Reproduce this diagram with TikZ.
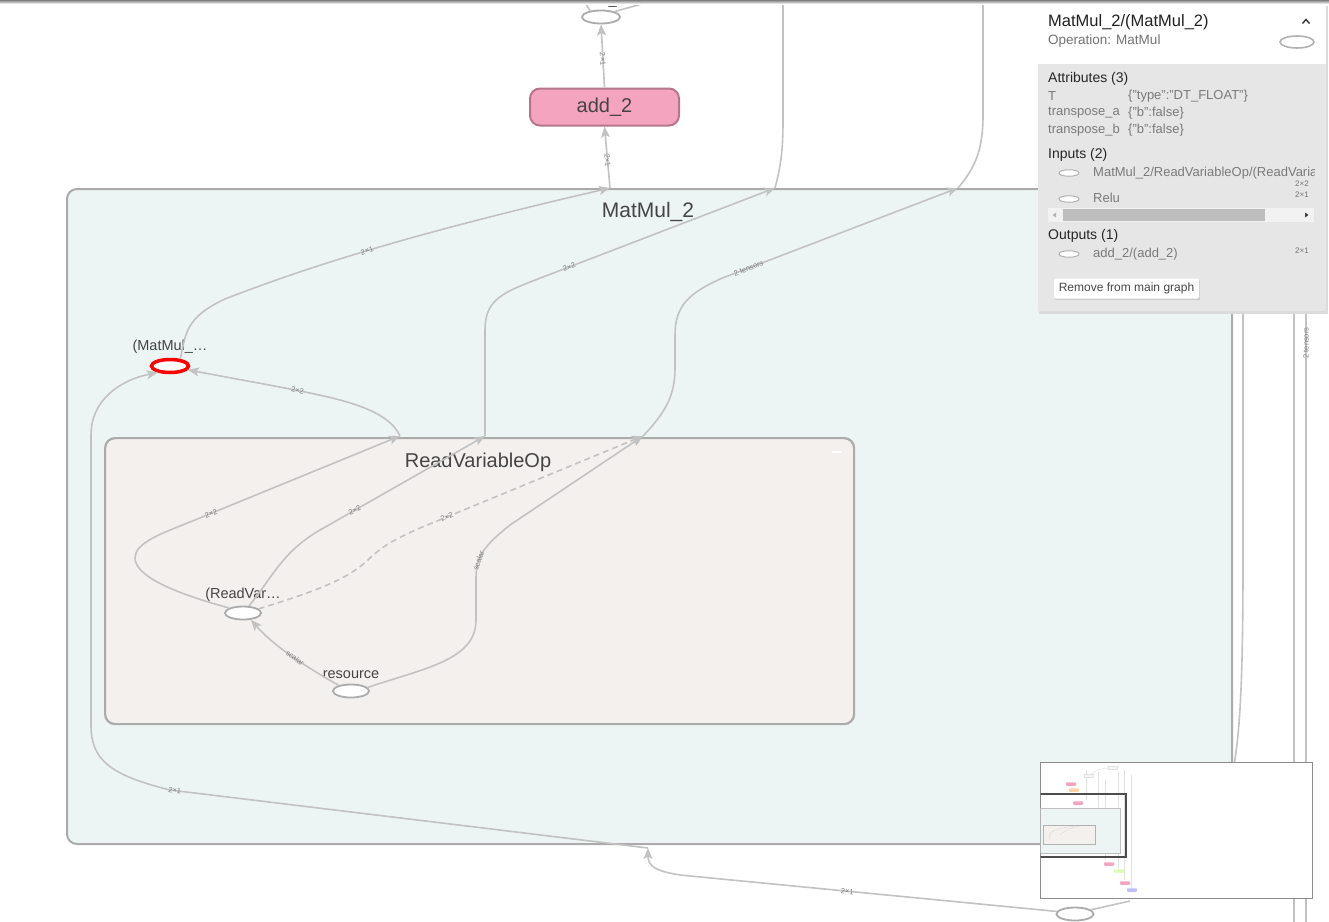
\documentclass[tikz,border=0pt]{standalone}
\usepackage{fontspec}
\setmainfont{Liberation Sans}
\usetikzlibrary{shapes.geometric,arrows.meta,shadings}
\definecolor{edgec}{HTML}{C2C2C2}
\definecolor{boxb}{HTML}{ABABAB}
\definecolor{mmfill}{HTML}{EDF5F4}
\definecolor{rvfill}{HTML}{F4F0EE}
\definecolor{pinkf}{HTML}{F4A4BF}
\definecolor{pinkb}{HTML}{B5768A}
\definecolor{txt}{HTML}{444444}
\definecolor{lblc}{HTML}{808080}
\definecolor{panelg}{HTML}{E6E6E6}
\tikzset{
  edge/.style={draw=edgec, line width=1.6pt},
  arr/.style={-{Stealth[length=11pt,width=9pt,inset=2.5pt]}},
  dashedge/.style={dash pattern=on 6pt off 4pt},
  elab/.style={font=\fontsize{7.5}{8}\selectfont, text=lblc, sloped, inner sep=0.5pt},
  opn/.style={ellipse, draw=boxb, line width=1.8pt, fill=white, minimum width=36pt, minimum height=13pt, inner sep=0pt},
  nlab/.style={font=\fontsize{14.5}{16}\selectfont, text=txt},
  grp/.style={font=\fontsize{21}{24}\selectfont, text=txt},
  metabox/.style={draw=boxb, line width=2pt, rounded corners=10pt, anchor=north west, inner sep=0pt},
  ptxt/.style={anchor=west, inner sep=0pt, font=\fontsize{13}{15}\selectfont, text=black!52},
  phead/.style={anchor=west, inner sep=0pt, font=\fontsize{14}{16}\selectfont, text=black!85},
  psmall/.style={inner sep=0pt, font=\fontsize{8}{9}\selectfont, text=black!55},
  pell/.style={ellipse, draw=black!30, line width=1pt, fill=white, minimum width=20pt, minimum height=6.5pt, inner sep=0pt},
  mini/.style={rounded corners=0.8pt, minimum width=10pt, minimum height=3.5pt, inner sep=0pt, draw=black!25, line width=0.3pt}
}
\begin{document}
\begin{tikzpicture}[x=1pt,y=-1pt]
\begin{scope}
\clip (0,0) rectangle (1329,921);
\fill[white] (0,0) rectangle (1329,921);

% right-hand vertical edges
\coordinate (rA0) at (1231,-5);
\coordinate (rA1) at (1231,188);
\coordinate (rB0) at (1243,-5);
\coordinate (rB1) at (1234,765);
\coordinate (rC0) at (1294,-5);
\coordinate (rC1) at (1294,930);
\coordinate (rD0) at (1306,-5);
\coordinate (rD1) at (1306,930);
\draw[edge] (rA0) -- (rA1);
\draw[edge] (rB0) -- (1243,560) .. controls (1243,680) and (1240,730) .. (rB1);
\draw[edge] (rC0) -- (rC1);
\draw[edge] (rD0) -- (rD1);
\node[elab, sloped=false, rotate=90] (rlab) at (1306,343) {2 tensors};

% group boxes
\node[metabox, fill=mmfill, minimum width=1165pt, minimum height=655pt] (mm) at (66,188) {};
\node[grp] (mmtitle) at (648,212) {MatMul\_2};
\node[metabox, fill=rvfill, minimum width=749pt, minimum height=286pt, line width=2.2pt] (rvo) at (104,437) {};
\node[grp, font=\fontsize{20}{24}\selectfont] (rvtitle) at (478,462) {ReadVariableOp};
\draw[white, line width=2pt] (832,452) -- (842,452);

% op nodes
\node[opn, minimum width=38pt] (tanh) at (601,17) {};
\node[nlab, anchor=base] (tanhlab) at (601,4) {Tanh\_1};
\node[draw=pinkb, fill=pinkf, line width=2pt, rounded corners=10pt, minimum width=149pt, minimum height=37pt, inner sep=0pt, grp, font=\fontsize{20}{24}\selectfont] (add) at (604.5,107) {add\_2};
\node[opn, draw=red, line width=3.5pt, minimum width=37pt, minimum height=13pt, label={[nlab, label distance=1pt]90:{(MatMul\_…}}] (mmn) at (170,366) {};
\node[opn, label={[nlab, label distance=1pt]90:{(ReadVar…}}] (rv) at (243,613) {};
\node[opn, label={[nlab, label distance=1pt]90:{resource}}] (res) at (351,691) {};
\node[opn, minimum width=37pt] (relu) at (1075,914) {};

% border coordinates
\coordinate (mmA) at (610,188);
\coordinate (mmB) at (775,188);
\coordinate (mmC) at (958,188);
\coordinate (mmD) at (648,848);
\coordinate (rvA) at (400,436);
\coordinate (rvB) at (485,436);
\coordinate (rvC) at (643,436);
\coordinate (topB) at (783,-5);
\coordinate (topC) at (983,-5);
\coordinate (tanhL) at (580,-5);
\coordinate (tanhR) at (685,-8);
\coordinate (reluR) at (1130,901);

% edges
\draw[edge] (tanh.150) -- (tanhL);
\draw[edge] (tanh.22) -- (tanhR);
\draw[edge,arr] (add.north) -- (tanh.south) node[elab,pos=0.45]{2×1};
\draw[edge,arr] (mmA) -- (add.south) node[elab,pos=0.45]{2×1};
\draw[edge,arr] (mmn.35) .. controls (186,335) and (184,318) .. (225,299) .. controls (330,258) and (450,225) .. (mmA) node[elab,pos=0.42]{2×1};
\draw[edge,arr] (rvA) .. controls (388,410) and (345,400) .. (300,391) .. controls (260,383) and (225,377) .. (mmn.-12) node[elab,pos=0.02]{2×2};
\draw[edge,arr] (rvB) -- (485,330) .. controls (485,302) and (500,294) .. (530,282) -- (mmB) node[elab,pos=0.16]{2×2};
\draw[edge] (mmB) .. controls (781,165) and (783,150) .. (783,120) -- (topB);
\draw[edge,arr] (rvC) .. controls (666,412) and (675,395) .. (675,368) -- (675,335) .. controls (675,305) and (690,293) .. (720,279) -- (mmC) node[elab,pos=0.12]{2 tensors};
\draw[edge] (mmC) .. controls (975,168) and (983,150) .. (983,115) -- (topC);
\draw[edge,arr] (rv.160) .. controls (170,592) and (135,575) .. (135,558) .. controls (135,543) and (160,534) .. (190,522) -- (rvA) node[elab,pos=0.1]{2×2};
\draw[edge,arr] (rv.50) .. controls (272,578) and (282,552) .. (320,530) -- (rvB) node[elab,pos=0.21]{2×2};
\draw[edge,dashedge,arr] (rv.15) .. controls (320,590) and (350,578) .. (370,558) .. controls (385,544) and (398,538) .. (420,528) -- (rvC) node[elab,pos=0.12]{2×2};
\draw[edge,arr] (res.12) .. controls (425,668) and (476,660) .. (476,620) -- (476,578) .. controls (476,556) and (485,545) .. (510,525) node[elab,pos=0.3]{scalar} -- (rvC);
\draw[edge,arr] (res.155) .. controls (315,672) and (275,648) .. (rv.-40) node[elab,pos=0.5]{scalar};
\draw[edge,arr] (relu.172) -- (680,875) node[elab,pos=0.556]{2×1} .. controls (655,871) and (648,866) .. (mmD);
\draw[edge,arr] (mmD) -- (170,790) node[elab,pos=0.99]{2×1} .. controls (110,775) and (91,760) .. (91,725) -- (91,435) .. controls (91,400) and (120,380) .. (mmn.208);
\draw[edge] (relu.15) -- (reluR);

% info panel
\fill[black!14] (1039,6) rectangle (1328,314);
\fill[white] (1038,4) rectangle (1326,64);
\fill[panelg] (1038,64) rectangle (1326,311);
\node[anchor=west, inner sep=0pt, font=\fontsize{16.5}{18}\selectfont, text=black!87] (ptitle) at (1048,22) {MatMul\_2/(MatMul\_2)};
\node[anchor=west, inner sep=0pt, font=\fontsize{13.5}{16}\selectfont, text=black!55] (pop) at (1048,41) {Operation: MatMul};
\draw[black!80, line width=1.4pt] (1302.5,23.5) -- (1306,19.5) -- (1309.5,23.5);
\node[opn, draw=black!30, line width=1.6pt, minimum width=34pt, minimum height=12pt] (pnode) at (1297,42) {};
\node[phead] (pattr) at (1048,79) {Attributes (3)};
\node[ptxt] (pT) at (1048,96) {T};
\node[ptxt] (pTv) at (1128,96) {\{"type":"DT\_FLOAT"\}};
\node[ptxt] (pta) at (1048,113) {transpose\_a};
\node[ptxt] (ptav) at (1128,113) {\{"b":false\}};
\node[ptxt] (ptb) at (1048,130) {transpose\_b};
\node[ptxt] (ptbv) at (1128,130) {\{"b":false\}};
\node[phead] (pin) at (1048,155) {Inputs (2)};
\node[pell] (pin1e) at (1069,173) {};
\begin{scope}
\clip (1080,160) rectangle (1314,185);
\node[ptxt] (pin1) at (1093,173) {MatMul\_2/ReadVariableOp/(ReadVariableOp)};
\end{scope}
\node[psmall] (pin1s) at (1302,184) {2×2};
\node[pell] (pin2e) at (1069,199) {};
\node[ptxt] (pin2) at (1093,198) {Relu};
\node[psmall] (pin2s) at (1302,195) {2×1};
\fill[black!5] (1048,208) rectangle (1314,222);
\fill[black!26] (1063,209) rectangle (1265,221);
\fill[black!30] (1056,212.5) -- (1052.5,215) -- (1056,217.5) -- cycle;
\fill[black!75] (1305,212.5) -- (1308.5,215) -- (1305,217.5) -- cycle;
\node[phead] (pout) at (1048,236) {Outputs (1)};
\node[pell] (pout1e) at (1069,254) {};
\node[ptxt] (pout1) at (1093,254) {add\_2/(add\_2)};
\node[psmall] (pout1s) at (1302,251) {2×1};
\fill[black!20] (1054.5,279.5) rectangle (1199.5,299.5);
\node[fill=white, rounded corners=1.5pt, minimum width=145pt, minimum height=20pt, inner sep=0pt, font=\fontsize{12}{14}\selectfont, text=black!72] (pbtn) at (1126.5,288.5) {Remove from main graph};

% minimap
\node[draw=black!45, fill=white, line width=1pt, minimum width=272pt, minimum height=136pt, anchor=north west, inner sep=0pt] (minimap) at (1040,762) {};
\begin{scope}
\clip (1040.5,762.5) rectangle (1311.5,897.5);
\draw[black!12, line width=0.4pt] (1086,770) -- (1086,800) (1098,772) -- (1098,808) (1124,770) -- (1124,880) (1131,775) -- (1131,890) (1118,772) -- (1118,868) (1105,780) -- (1105,860);
\draw[black!12, line width=0.4pt] (1113,768) .. controls (1100,768) and (1095,770) .. (1089,776);
\node[fill=mmfill, draw=black!25, line width=0.4pt, minimum width=82pt, minimum height=45pt, anchor=north west, inner sep=0pt] (mmm) at (1038,808) {};
\node[fill=rvfill, draw=black!30, line width=0.4pt, minimum width=52pt, minimum height=19pt, anchor=north west, inner sep=0pt] (mmr) at (1043,825) {};
\draw[black!15, line width=0.4pt] (1050,840) .. controls (1046,830) and (1060,828) .. (1075,826) (1060,835) .. controls (1065,830) and (1070,828) .. (1080,826);
\node[mini, fill=black!4] (m1) at (1113,768) {};
\node[mini, fill=black!4] (m2) at (1089,776) {};
\node[mini, fill=pinkf, draw=none] (m3) at (1071,784) {};
\node[mini, fill=orange!35, draw=none] (m4) at (1074,790) {};
\node[mini, fill=pinkf, draw=none] (m5) at (1078,803) {};
\node[mini, fill=pinkf, draw=none] (m6) at (1109,864) {};
\node[mini, fill=green!25!lime!30, draw=none] (m7) at (1119,871) {};
\node[mini, fill=pinkf, draw=none] (m8) at (1125,883) {};
\node[mini, fill=blue!25, draw=none] (m9) at (1132,890) {};
\draw[black!70, line width=2pt] (1030,794) rectangle (1126,857);
\end{scope}

% top bar
\shade[top color=black!50, bottom color=white] (0,0) rectangle (1329,4);
\end{scope}
\pgfresetboundingbox
\useasboundingbox (0,0) rectangle (1329,921);
\end{tikzpicture}
\end{document}
